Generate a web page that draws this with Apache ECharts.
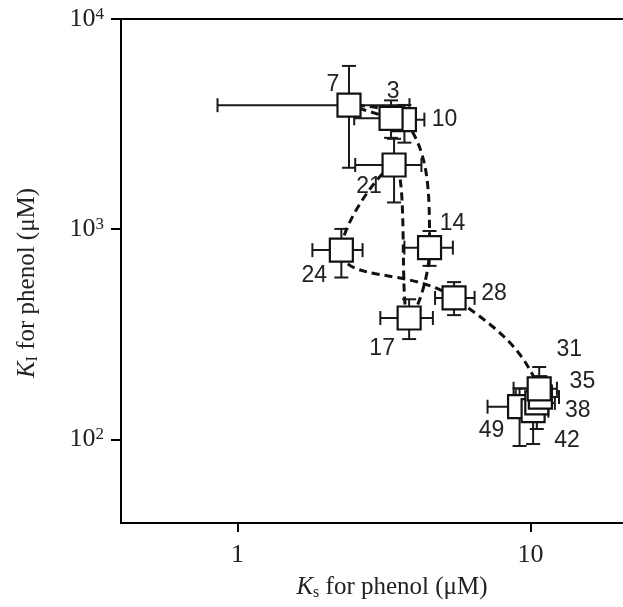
<!DOCTYPE html>
<html>
<head>
<meta charset="utf-8">
<script src="https://cdn.jsdelivr.net/npm/echarts@6/dist/echarts.min.js"></script>
<style>
html,body{margin:0;padding:0;background:#fff;}
#c{width:623px;height:607px;}
</style>
</head>
<body>
<div id="c"></div>
<script>
// Time labels (h)
const times   = ['3','7','10','14','17','21','24','28','31','35','38','42','49'];
// Ks for phenol (µM)
const ks      = [3.34, 2.40, 3.71, 4.52, 3.85, 3.42, 2.26, 5.48, 10.7, 10.8, 10.5, 10.2, 9.17];
const ksLow   = [2.50, 0.854, 3.30, 3.71, 3.07, 2.52, 1.80, 4.72, 8.75, 8.9, 8.85, 9.1, 7.13];
const ksHigh  = [3.90, 3.86, 4.34, 5.43, 4.64, 4.24, 2.67, 6.44, 12.3, 12.5, 12.1, 11.5, 10.3];
// KI for phenol (µM)
const ki      = [3370, 3890, 3320, 817, 378, 2020, 795, 471, 174, 159, 149, 137, 143];
const kiLow   = [2720, 1960, 2580, 669, 300, 1340, 589, 390, 150, 140, 112, 95, 93];
const kiHigh  = [4100, 5980, 3900, 980, 464, 2690, 1003, 560, 221, 200, 185, 170, 175];
// Axis tick values
const xTicks = [1, 10];
const yTicks = [100, 1000, 10000];

// layout only: label offsets (px) for each point label
const labelOffsets = [[2,-27],[-16,-21],[40,0],[23,-24],[-27,31],[-25,22],[-27,26],[40,-4],[30,-39],[42,-15],[41,8],[34,30],[-28,24]];

const serif = 'Liberation Serif';
const chart = echarts.init(document.getElementById('c'), null, {renderer:'canvas'});

const errData = ks.map((x,i)=>[x, ki[i], ksLow[i], ksHigh[i], kiLow[i], kiHigh[i]]);
const lineData = ks.map((x,i)=>[x, ki[i]]);
const order = ks.map((_,i)=>i).reverse();
const scatterData = order.map(i=>({
  value:[ks[i], ki[i]],
  label:{formatter: times[i], offset: labelOffsets[i]}
}));

const CAP = 7;
function errItem(params, api){
  const x=api.value(0), y=api.value(1);
  const l=api.coord([api.value(2), y]), r=api.coord([api.value(3), y]);
  const b=api.coord([x, api.value(4)]), t=api.coord([x, api.value(5)]);
  const st={stroke:'#1a1a1a', lineWidth:2};
  const ln=(x1,y1,x2,y2)=>({type:'line', shape:{x1,y1,x2,y2}, style:st});
  return {type:'group', children:[
    ln(l[0],l[1],r[0],r[1]),
    ln(l[0],l[1]-CAP,l[0],l[1]+CAP),
    ln(r[0],r[1]-CAP,r[0],r[1]+CAP),
    ln(b[0],b[1],t[0],t[1]),
    ln(b[0]-CAP,b[1],b[0]+CAP,b[1]),
    ln(t[0]-CAP,t[1],t[0]+CAP,t[1])
  ]};
}

chart.setOption({
  backgroundColor:'#fff',
  animation:false,
  grid:{left:121, right:-2, top:19, bottom:84, outerBoundsMode:'none', containLabel:false,
        show:true, borderColor:'#000', borderWidth:2, backgroundColor:'transparent'},
  xAxis:{
    type:'log', min:0.4, max:21,
    axisLine:{show:true, lineStyle:{color:'#000', width:2}},
    axisTick:{show:true, customValues:xTicks, length:9, lineStyle:{color:'#000', width:2}},
    minorTick:{show:false},
    splitLine:{show:false},
    axisLabel:{customValues:xTicks, margin:19, fontFamily:serif, fontSize:26, color:'#222',
      formatter:v=>String(Math.round(v))},
    name:'{i|K}{sub|s}{n| for phenol (μM)}',
    nameLocation:'middle', nameGap:50,
    nameTextStyle:{padding:[0,0,0,38], rich:{
      i:{fontFamily:serif, fontStyle:'italic', fontSize:25, color:'#222'},
      sub:{fontFamily:serif, fontSize:16, color:'#222', padding:[12,0,0,0]},
      n:{fontFamily:serif, fontSize:25, color:'#222'}
    }}
  },
  yAxis:{
    type:'log', min:40, max:10000,
    axisLine:{show:true, lineStyle:{color:'#000', width:2}},
    axisTick:{show:true, customValues:yTicks, length:10, lineStyle:{color:'#000', width:2}},
    splitLine:{show:false},
    axisLabel:{customValues:yTicks, margin:17,
      formatter:v=>'{b|10}{s|'+Math.round(Math.log10(v))+'}',
      rich:{
        b:{fontFamily:serif, fontSize:26, color:'#222', lineHeight:26},
        s:{fontFamily:serif, fontSize:17, color:'#222', lineHeight:17, verticalAlign:'top'}
      }},
    name:'{i|K}{sub|I}{n| for phenol (μM)}',
    nameLocation:'middle', nameGap:80,
    nameTextStyle:{padding:[0,24,0,0], rich:{
      i:{fontFamily:serif, fontStyle:'italic', fontSize:25, color:'#222'},
      sub:{fontFamily:serif, fontSize:16, color:'#222', padding:[12,0,0,0]},
      n:{fontFamily:serif, fontSize:25, color:'#222'}
    }}
  },
  series:[
    {type:'custom', renderItem:errItem, data:errData, z:1, silent:true,
     encode:{x:0, y:1}},
    {type:'line', data:lineData, smooth:0.45, showSymbol:false, z:2,
     lineStyle:{color:'#111', width:3, type:[8,5]}},
    {type:'scatter', data:scatterData, z:3, symbol:'rect', symbolSize:23,
     itemStyle:{color:'#fff', borderColor:'#111', borderWidth:2.2, opacity:1},
     label:{show:true, position:'inside', fontFamily:'Liberation Sans', fontSize:23, color:'#222'}}
  ]
});
</script>
</body>
</html>
